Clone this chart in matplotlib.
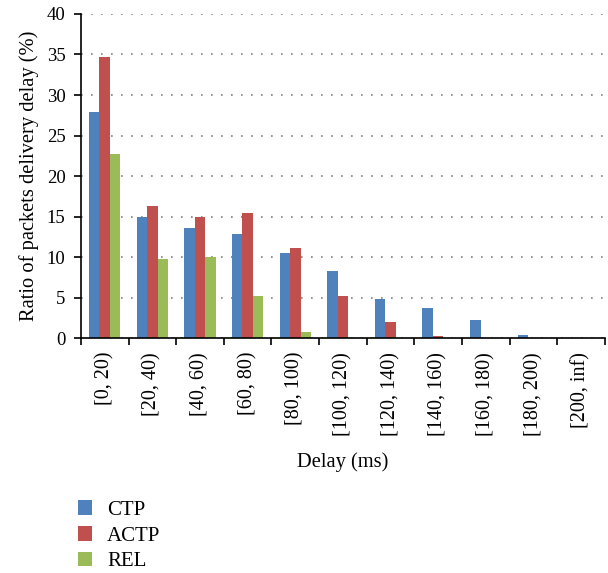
import numpy as np
import matplotlib.pyplot as plt
from matplotlib.patches import Patch

categories = ['[0, 20)', '[20, 40)', '[40, 60)', '[60, 80)', '[80, 100)',
              '[100, 120)', '[120, 140)', '[140, 160)', '[160, 180)',
              '[180, 200)', '[200, inf)']
ctp = [27.9, 15.0, 13.6, 12.8, 10.45, 8.3, 4.85, 3.7, 2.25, 0.4, 0.0]
actp = [34.7, 16.25, 15.0, 15.4, 11.15, 5.2, 2.0, 0.28, 0.0, 0.0, 0.0]
rel = [22.7, 9.7, 9.95, 5.2, 0.78, 0.0, 0.0, 0.0, 0.0, 0.0, 0.0]

series = [('CTP', ctp, '#4F81BD'), ('ACTP', actp, '#C0504D'), ('REL', rel, '#9BBB59')]

plt.rcParams['font.family'] = ['Liberation Serif', 'DejaVu Serif']

fig = plt.figure(figsize=(6.08, 5.73), dpi=100)
ax = fig.add_axes([0.133, 0.410, 0.862, 0.5656])

x = np.arange(len(categories))
w = 0.22
for i, (name, vals, col) in enumerate(series):
    ax.bar(x + (i - 1) * w, vals, width=w, color=col, edgecolor='none',
           label=name, zorder=3)

ax.set_xlim(-0.5, len(categories) - 0.5)
ax.set_ylim(0, 40)
ax.set_yticks(range(0, 41, 5))
ax.yaxis.grid(True, linestyle=(0, (1, 5)), color='#808080', linewidth=1.2, zorder=0)
ax.set_xticks(x)
ax.set_xticklabels(categories, rotation=90, fontsize=14.5)
ax.set_xticks(np.arange(-0.5, len(categories)), minor=True)
ax.tick_params(axis='x', which='major', length=0, pad=10)
ax.tick_params(axis='x', which='minor', length=5, direction='out', width=1.2)
ax.tick_params(axis='y', labelsize=13.5, length=5, width=1.2, direction='out', pad=6)
for s in ['top', 'right']:
    ax.spines[s].set_visible(False)
for s in ['left', 'bottom']:
    ax.spines[s].set_linewidth(1.2)
    ax.spines[s].set_zorder(4)

ax.set_ylabel('Ratio of packets delivery delay (%)', fontsize=14.8, labelpad=6)
ax.set_xlabel('Delay (ms)', fontsize=14.8, labelpad=12)

handles = [Patch(facecolor=c, label=n) for n, _, c in series]
fig.legend(handles=handles, loc='upper left', bbox_to_anchor=(0.128, 0.127),
           frameon=False, fontsize=15, handlelength=0.7, handleheight=0.7,
           handletextpad=0.7, labelspacing=0.3, borderaxespad=0, borderpad=0)

plt.savefig('out.png', dpi=100)
